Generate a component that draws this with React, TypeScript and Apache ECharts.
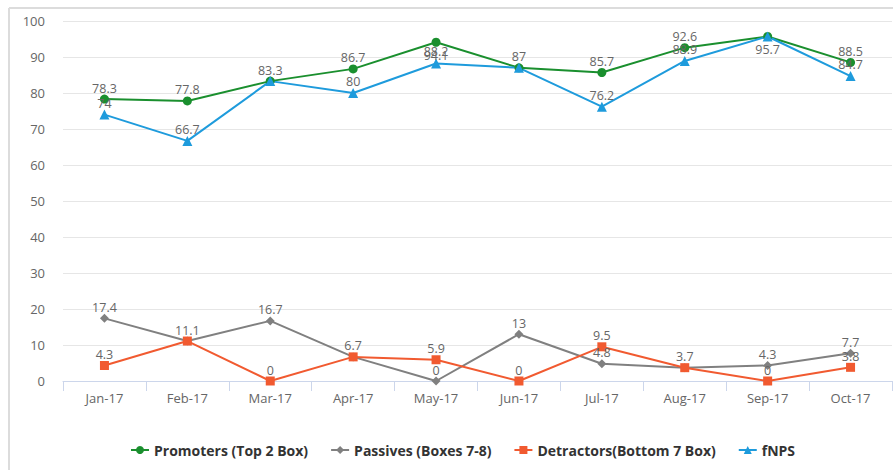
import React, { useEffect, useRef } from "react";
import * as echarts from "echarts";

const categories = ["Jan-17", "Feb-17", "Mar-17", "Apr-17", "May-17", "Jun-17", "Jul-17", "Aug-17", "Sep-17", "Oct-17"];
const promoters = [78.3, 77.8, 83.3, 86.7, 94.1, 87, 85.7, 92.6, 95.7, 88.5];
const passives = [17.4, 11.1, 16.7, 6.7, 0, 13, 4.8, 3.7, 4.3, 7.7];
const detractors = [4.3, 11.1, 0, 6.7, 5.9, 0, 9.5, 3.7, 0, 3.8];
const fnps = [74, 66.7, 83.3, 80, 88.2, 87, 76.2, 88.9, 95.7, 84.7];
const yTicks = [0, 10, 20, 30, 40, 50, 60, 70, 80, 90, 100];

// label overrides: hidden (overlapping) or placed below the point
const promotersBelow = [4];
const promotersHidden = [5, 8];
const passivesHidden = [1, 3, 7];
const fnpsBelow = [8];
const fnpsHidden = [2];

const FONT = "'Open Sans', 'Liberation Sans', sans-serif";

const labelBase = {
  show: true,
  position: "top" as const,
  distance: 0,
  color: "#666",
  fontSize: 12.5,
  fontFamily: FONT,
};

function buildData(values: number[], hidden: number[], below: number[]) {
  return values.map((v, i) => {
    if (hidden.includes(i)) return { value: v, label: { show: false } };
    if (below.includes(i)) return { value: v, label: { position: "bottom", distance: 2 } };
    return v;
  });
}

export default function App() {
  const ref = useRef<HTMLDivElement>(null);
  useEffect(() => {
    if (!ref.current) return;
    const chart = echarts.init(ref.current, undefined, { renderer: "svg" });
    chart.setOption({
      animation: false,
      backgroundColor: "#fff",
      graphic: [
        { type: "line", shape: { x1: 9, y1: 8, x2: 893, y2: 8 }, style: { stroke: "#dcdcdc", lineWidth: 2 }, z: 100 },
        { type: "line", shape: { x1: 9, y1: 8, x2: 9, y2: 470 }, style: { stroke: "#dcdcdc", lineWidth: 2 }, z: 100 },
      ],
      grid: { left: 63, right: 1, top: 21, bottom: 89, containLabel: false },
      legend: {
        left: 125,
        top: 438,
        itemGap: 22,
        itemWidth: 18,
        itemHeight: 10,
        textStyle: { fontFamily: FONT, fontSize: 14, fontWeight: "bold", color: "#333" },
        data: ["Promoters (Top 2 Box)", "Passives (Boxes 7-8)", "Detractors(Bottom 7 Box)", "fNPS"],
      },
      xAxis: {
        type: "category",
        data: categories,
        boundaryGap: true,
        axisLine: { lineStyle: { color: "#ccd6eb", width: 1 } },
        axisTick: { show: true, length: 10, lineStyle: { color: "#ccd6eb" }, alignWithLabel: false },
        axisLabel: { color: "#666", fontSize: 13, fontFamily: FONT, margin: 10 },
        splitLine: { show: false },
      },
      yAxis: {
        type: "value",
        min: yTicks[0],
        max: yTicks[yTicks.length - 1],
        interval: 10,
        axisLine: { show: false },
        axisTick: { show: false },
        axisLabel: { color: "#666", fontSize: 13, fontFamily: FONT, margin: 18 },
        splitLine: { lineStyle: { color: "#e6e6e6", width: 1 } },
      },
      series: [
        {
          name: "Promoters (Top 2 Box)",
          type: "line",
          data: buildData(promoters, promotersHidden, promotersBelow),
          symbol: "circle",
          symbolSize: 9,
          itemStyle: { color: "#1a8f2e" },
          lineStyle: { color: "#1a8f2e", width: 2 },
          label: labelBase,
        },
        {
          name: "Passives (Boxes 7-8)",
          type: "line",
          data: buildData(passives, passivesHidden, []),
          symbol: "diamond",
          symbolSize: 9,
          itemStyle: { color: "#808080" },
          lineStyle: { color: "#808080", width: 2 },
          label: labelBase,
        },
        {
          name: "Detractors(Bottom 7 Box)",
          type: "line",
          data: buildData(detractors, [], []),
          symbol: "rect",
          symbolSize: 9,
          itemStyle: { color: "#f15a30" },
          lineStyle: { color: "#f15a30", width: 2 },
          label: labelBase,
        },
        {
          name: "fNPS",
          type: "line",
          data: buildData(fnps, fnpsHidden, fnpsBelow),
          symbol: "triangle",
          symbolSize: 10,
          itemStyle: { color: "#1e9bdc" },
          lineStyle: { color: "#1e9bdc", width: 2 },
          label: labelBase,
        },
      ],
    });
    return () => chart.dispose();
  }, []);
  return (
    <div style={{ position: "fixed", left: 0, top: 0, width: 893, height: 470, background: "#fff" }}>
      <div ref={ref} style={{ width: 893, height: 470 }} />
    </div>
  );
}
